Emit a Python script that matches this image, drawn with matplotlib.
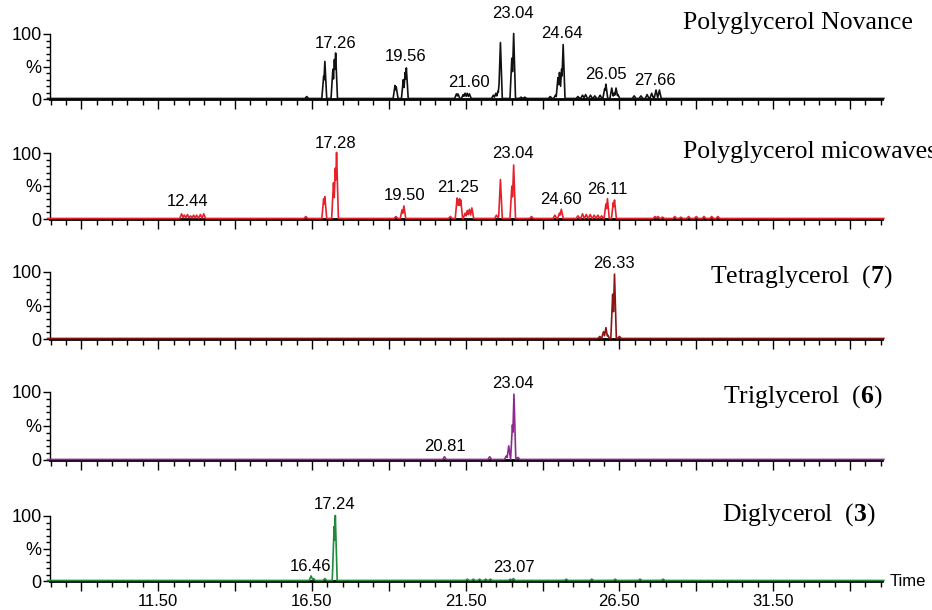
import numpy as np
import matplotlib
matplotlib.use("Agg")
import matplotlib.pyplot as plt
from matplotlib.ticker import FixedLocator, MultipleLocator, FuncFormatter

plt.rcParams['font.family'] = ['Liberation Sans', 'DejaVu Sans']
plt.rcParams['mathtext.fontset'] = 'custom'
plt.rcParams['mathtext.rm'] = 'Liberation Serif'
plt.rcParams['mathtext.bf'] = 'Liberation Serif:bold'

# peaks: retention time (min), relative intensity (%)
novance_t = [16.33, 16.88, 16.92, 17.18, 17.23, 17.27, 19.20, 19.24, 19.47, 19.53, 19.57,
             21.20, 21.25, 21.42, 21.48, 21.55, 21.62, 22.40, 22.48, 22.55, 22.60, 22.63,
             23.00, 23.06, 23.30, 23.42, 24.25, 24.42, 24.50, 24.55, 24.62, 24.67,
             25.15, 25.30, 25.40, 25.56, 25.70, 25.87, 26.02, 26.06, 26.25, 26.33, 26.39,
             26.45, 26.98, 27.20, 27.40, 27.55, 27.69, 27.80]
novance_h = [3, 34, 57, 45, 60, 70, 20, 18, 29, 40, 47,
             7, 7, 6, 8, 8, 7, 5, 8, 11, 29, 86,
             62, 100, 2, 2, 3, 5, 32, 40, 45, 83,
             3, 5, 6, 5, 4, 5, 15, 22, 16, 8, 16,
             6, 4, 4, 6, 8, 13, 13]

micro_t = [12.26, 12.35, 12.45, 12.55, 12.65, 12.75, 12.87, 12.98, 16.30, 16.88, 16.92,
           17.20, 17.26, 17.30, 19.23, 19.43, 19.49, 21.00, 21.22, 21.26, 21.30, 21.34,
           21.48, 21.55, 21.62, 21.70, 22.50, 22.58, 22.63, 23.00, 23.06, 23.64, 24.40,
           24.55, 24.61, 25.15, 25.30, 25.42, 25.55, 25.68, 25.80, 25.92, 26.06, 26.11,
           26.30, 26.34, 27.66, 27.75, 27.90, 28.30, 28.50, 28.75, 29.00, 29.25, 29.50, 29.70]
micro_h = [7, 5, 6, 4, 5, 5, 6, 7, 3, 30, 33,
           54, 76, 100, 3, 13, 19, 3, 31, 28, 30, 28,
           8, 12, 14, 16, 5, 3, 59, 49, 81, 3, 5,
           8, 14, 4, 7, 6, 6, 5, 5, 4, 22, 30,
           24, 28, 3, 3, 2, 3, 2, 3, 3, 3, 3, 3]

tetra_t = [25.86, 25.98, 26.06, 26.12, 26.28, 26.34, 26.50]
tetra_h = [3, 10, 16, 5, 66, 96, 3]

tri_t = [20.81, 22.28, 22.82, 22.90, 23.02, 23.07, 23.20]
tri_h = [4, 4, 5, 20, 51, 96, 3]

di_t = [16.47, 16.55, 16.92, 17.22, 17.26, 21.55, 21.75, 21.95, 22.15, 22.30, 22.95,
        23.05, 24.77, 25.60, 26.36, 27.17, 27.92]
di_h = [7, 3, 3, 83, 100, 2, 2, 2, 2, 2, 2,
        3, 2, 2, 2, 2, 2]

# peak labels: text, height of the label (% units)
novance_lbl = [('17.26', 86), ('19.56', 65), ('21.60', 26), ('23.04', 132),
               ('24.64', 101), ('26.05', 38), ('27.66', 29)]
micro_lbl = [('12.44', 26), ('17.28', 115), ('19.50', 35), ('21.25', 47),
             ('23.04', 100), ('24.60', 29), ('26.11', 45)]
tetra_lbl = [('26.33', 112)]
tri_lbl = [('23.04', 112), ('20.81', 20)]
di_lbl = [('17.24', 118), ('16.46', 22), ('23.07', 20)]

names = ['Polyglycerol Novance', 'Polyglycerol micowaves', r'Tetraglycerol  ($\mathbf{7}$)',
         r'Triglycerol  ($\mathbf{6}$)', r'Diglycerol  ($\mathbf{3}$)']
colors = ['#111111', '#e8202a', '#8c1414', '#8e2a8e', '#1f8a3a']

W, H = 932, 610
zero_px = [99, 219, 339, 460, 581]
top_px = [34, 153, 272, 392, 516]
name_xy = [(683, 23), (683, 152), (710, 277), (723, 397), (722, 515)]

fig = plt.figure(figsize=(W / 100, H / 100), dpi=100)
grid = np.linspace(7.9, 35.1, 5441)

panels = [(novance_t, novance_h, novance_lbl), (micro_t, micro_h, micro_lbl),
          (tetra_t, tetra_h, tetra_lbl), (tri_t, tri_h, tri_lbl), (di_t, di_h, di_lbl)]

for i, (pt, ph, lbls) in enumerate(panels):
    ax = fig.add_axes([50 / W, 1 - zero_px[i] / H, 831.7 / W, (zero_px[i] - top_px[i]) / H])
    # build trace from narrow peaks
    y = np.zeros_like(grid)
    for t, h in zip(pt, ph):
        y = np.maximum(y, h * np.clip(1 - np.abs(grid - t) / 0.06, 0, None))
    ax.plot(grid, y + 0.8, color=colors[i], lw=1.2, clip_on=False, zorder=3)
    ax.set_xlim(7.98, 35.03)
    ax.set_ylim(0, 100)

    for s in ['top', 'right']:
        ax.spines[s].set_visible(False)
    ax.spines['bottom'].set_linewidth(2)
    ax.spines['left'].set_linewidth(1)

    ax.xaxis.set_major_locator(FixedLocator(np.arange(9.0, 35.0, 2.5)))
    ax.xaxis.set_minor_locator(MultipleLocator(0.5))
    if i == 4:
        ax.xaxis.set_major_formatter(FuncFormatter(
            lambda v, p: '%.2f' % v if abs((v - 11.5) % 5) < 1e-6 else ''))
    else:
        ax.set_xticklabels([])
    ax.yaxis.set_major_locator(FixedLocator([0, 50, 100]))
    ax.yaxis.set_minor_locator(MultipleLocator(10))
    ax.set_yticklabels(['0', '%', '100'])
    ax.tick_params(axis='x', which='major', direction='out', length=7, width=1, labelsize=12, pad=2)
    ax.tick_params(axis='x', which='minor', direction='out', length=4, width=1)
    ax.tick_params(axis='y', which='major', direction='out', length=5, width=1, labelsize=13, pad=1)
    ax.tick_params(axis='y', which='minor', direction='out', length=3, width=1)

    for txt, ly in lbls:
        ax.text(float(txt), ly, txt, ha='center', va='center', fontsize=12, clip_on=False)

    fig.text(name_xy[i][0] / W, 1 - name_xy[i][1] / H, names[i], family='Liberation Serif',
             fontsize=18.5, va='center', ha='left')

fig.text(890 / W, 1 - 582 / H, 'Time', fontsize=12, va='center', ha='left')

fig.savefig('out.png', dpi=100)
